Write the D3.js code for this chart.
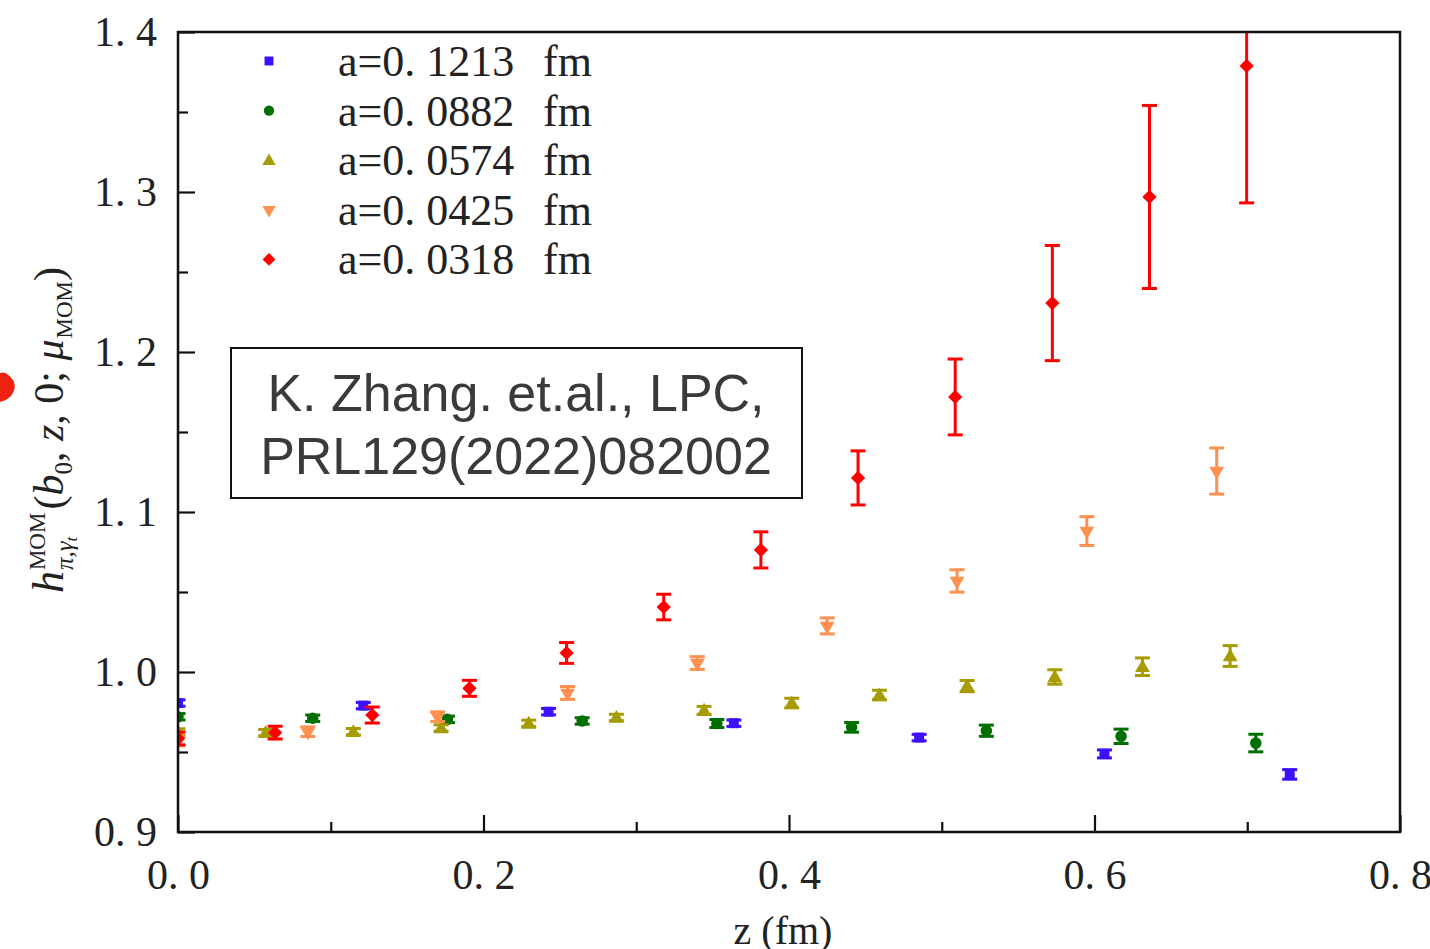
<!DOCTYPE html>
<html>
<head>
<meta charset="utf-8">
<script src="https://cdn.jsdelivr.net/npm/d3@7"></script>
<style>
  html, body { margin: 0; padding: 0; background: #fff; }
  svg { display: block; }
</style>
</head>
<body>
<svg id="chart" width="1430" height="949"></svg>
<script>
// Renormalized pion matrix element h^MOM vs. separation z, five lattice spacings
const seriesNames = ["a=0. 1213", "a=0. 0882", "a=0. 0574", "a=0. 0425", "a=0. 0318"];
const seriesColors = ["#3d10ff", "#006f00", "#a69b00", "#ff9050", "#ff0000"];
const seriesShapes = ["square", "circle", "triangleUp", "triangleDown", "diamond"];

const zA1213 = [0, 0.1213, 0.2426, 0.3639, 0.4852, 0.6065, 0.7278];
const hA1213 = [0.9806, 0.979, 0.9752, 0.968, 0.959, 0.9488, 0.936];
const eA1213 = [0.002, 0.002, 0.002, 0.002, 0.002, 0.0025, 0.003];

const zA0882 = [0, 0.0882, 0.1764, 0.2646, 0.3528, 0.441, 0.5292, 0.6174, 0.7056];
const hA0882 = [0.972, 0.9711, 0.9704, 0.9694, 0.9678, 0.9654, 0.9633, 0.9598, 0.9556];
const eA0882 = [0.002, 0.002, 0.002, 0.002, 0.0025, 0.003, 0.0035, 0.0045, 0.0055];

const zA0574 = [0, 0.0574, 0.1148, 0.1722, 0.2296, 0.287, 0.3444, 0.4018, 0.4592, 0.5166, 0.574, 0.6314, 0.6888];
const hA0574 = [0.9625, 0.9621, 0.9627, 0.965, 0.9679, 0.9716, 0.976, 0.9806, 0.9856, 0.9912, 0.9969, 1.0033, 1.01];
const eA0574 = [0.002, 0.002, 0.002, 0.002, 0.002, 0.002, 0.0025, 0.003, 0.003, 0.0035, 0.0045, 0.0055, 0.0065];

const zA0425 = [0, 0.085, 0.17, 0.255, 0.34, 0.425, 0.51, 0.595, 0.68];
const hA0425 = [0.9568, 0.9627, 0.9721, 0.9869, 1.0056, 1.0288, 1.0569, 1.0881, 1.1256];
const eA0425 = [0.003, 0.003, 0.003, 0.004, 0.004, 0.005, 0.007, 0.009, 0.0144];

const zA0318 = [0, 0.0636, 0.1272, 0.1908, 0.2544, 0.318, 0.3816, 0.4452, 0.5088, 0.5724, 0.636, 0.6996];
const hA0318 = [0.9585, 0.9621, 0.9731, 0.9898, 1.0119, 1.0406, 1.0763, 1.1213, 1.1719, 1.2306, 1.2969, 1.3788];
const eA0318 = [0.004, 0.004, 0.005, 0.005, 0.0065, 0.008, 0.0113, 0.0169, 0.0237, 0.036, 0.0572, 0.0856];

const xMajorTicks = [0, 0.2, 0.4, 0.6, 0.8];
const xMinorTicks = [0.1, 0.3, 0.5, 0.7];
const yMajorTicks = [0.9, 1.0, 1.1, 1.2, 1.3, 1.4];
const yMinorTicks = [0.95, 1.05, 1.15, 1.25, 1.35];

const noteLines = ["K. Zhang. et.al., LPC,", "PRL129(2022)082002"];

const seriesZ = [zA1213, zA0882, zA0574, zA0425, zA0318];
const seriesH = [hA1213, hA0882, hA0574, hA0425, hA0318];
const seriesE = [eA1213, eA0882, eA0574, eA0425, eA0318];

const series = seriesNames.map((name, i) => ({
  name, color: seriesColors[i], shape: seriesShapes[i],
  points: seriesZ[i].map((z, j) => ({ z, h: seriesH[i][j], e: seriesE[i][j] }))
}));

const svg = d3.select("#chart");
const plotLeft = 178, plotRight = 1400, plotTop = 32, plotBottom = 832;

const x = d3.scaleLinear().domain([0, 0.8]).range([plotLeft, plotRight]);
const y = d3.scaleLinear().domain([0.9, 1.4]).range([plotBottom, plotTop]);

const serif = "'Liberation Serif', 'DejaVu Serif', serif";
const fmtTick = d => d.toFixed(1).replace(".", ". ");

// clip region for the data
svg.append("defs").append("clipPath").attr("id", "plotClip")
  .append("rect").attr("x", plotLeft).attr("y", plotTop - 1)
  .attr("width", plotRight - plotLeft).attr("height", plotBottom - plotTop + 1);

// marker shapes
const symbolFor = {
  square: d3.symbolSquare, circle: d3.symbolCircle,
  triangleUp: d3.symbolTriangle, triangleDown: d3.symbolTriangle, diamond: d3.symbolDiamond2
};
const sizeFor = { square: 100, circle: 105, triangleUp: 95, triangleDown: 95, diamond: 130 };
function markerPath(shape, scale = 1) {
  return d3.symbol().type(symbolFor[shape]).size(sizeFor[shape] * scale)();
}
function markerTransform(shape, px, py) {
  let t = `translate(${px},${py})`;
  if (shape === "triangleDown") t += " rotate(180)";
  if (shape === "triangleUp") t += " translate(0,1)";
  return t;
}

// data: error bars and markers
const dataG = svg.append("g").attr("clip-path", "url(#plotClip)");
const capHalf = 7.5;
series.forEach(s => {
  const g = dataG.append("g");
  s.points.forEach(p => {
    const px = x(p.z), y1 = y(p.h + p.e), y0 = y(p.h - p.e);
    g.append("line").attr("x1", px).attr("x2", px).attr("y1", y1).attr("y2", y0)
      .attr("stroke", s.color).attr("stroke-width", 3);
    g.append("line").attr("x1", px - capHalf).attr("x2", px + capHalf).attr("y1", y1).attr("y2", y1)
      .attr("stroke", s.color).attr("stroke-width", 3);
    g.append("line").attr("x1", px - capHalf).attr("x2", px + capHalf).attr("y1", y0).attr("y2", y0)
      .attr("stroke", s.color).attr("stroke-width", 3);
    g.append("path").attr("d", markerPath(s.shape))
      .attr("transform", markerTransform(s.shape, px, y(p.h)))
      .attr("fill", s.color);
  });
});

// axes with inward ticks
function styleAxis(g) {
  g.select(".domain").remove();
  g.selectAll(".tick line").attr("stroke", "#111").attr("stroke-width", 2.2);
  g.selectAll(".tick text").attr("font-family", serif).attr("font-size", 42).attr("fill", "#222");
}
svg.append("g").attr("transform", `translate(0,${plotBottom})`)
  .call(d3.axisBottom(x).tickValues(xMajorTicks).tickSizeInner(-17).tickSizeOuter(0).tickPadding(27).tickFormat(fmtTick))
  .call(styleAxis);
svg.append("g").attr("transform", `translate(0,${plotBottom})`)
  .call(d3.axisBottom(x).tickValues(xMinorTicks).tickSizeInner(-10).tickSizeOuter(0).tickFormat(""))
  .call(styleAxis);
svg.append("g").attr("transform", `translate(${plotLeft},0)`)
  .call(d3.axisLeft(y).tickValues(yMajorTicks).tickSizeInner(-17).tickSizeOuter(0).tickPadding(21).tickFormat(fmtTick))
  .call(styleAxis);
svg.append("g").attr("transform", `translate(${plotLeft},0)`)
  .call(d3.axisLeft(y).tickValues(yMinorTicks).tickSizeInner(-10).tickSizeOuter(0).tickFormat(""))
  .call(styleAxis);

// frame
svg.append("rect").attr("x", plotLeft).attr("y", plotTop)
  .attr("width", plotRight - plotLeft).attr("height", plotBottom - plotTop)
  .attr("fill", "none").attr("stroke", "#111").attr("stroke-width", 2.5);

// legend
const legendG = svg.append("g");
series.forEach((s, i) => {
  const cy = 61 + i * 49.6;
  legendG.append("path").attr("d", markerPath(s.shape, 0.8))
    .attr("transform", markerTransform(s.shape, 269, cy)).attr("fill", s.color);
  legendG.append("text").attr("x", 338).attr("y", cy + 15)
    .attr("font-family", serif).attr("font-size", 44).attr("fill", "#222").text(s.name);
  legendG.append("text").attr("x", 543).attr("y", cy + 15)
    .attr("font-family", serif).attr("font-size", 44).attr("fill", "#222").text("fm");
});

// reference note
const noteG = svg.append("g");
noteG.append("rect").attr("x", 231).attr("y", 348).attr("width", 571).attr("height", 150)
  .attr("fill", "#fff").attr("stroke", "#111").attr("stroke-width", 2);
noteLines.forEach((t, i) => {
  noteG.append("text").attr("x", 516).attr("y", 411 + i * 63).attr("text-anchor", "middle")
    .attr("font-family", "'Liberation Sans', Arial, sans-serif").attr("font-size", 52)
    .attr("fill", "#3a3a3a").text(t);
});

// x axis title
svg.append("text").attr("x", 783).attr("y", 944).attr("text-anchor", "middle")
  .attr("font-family", serif).attr("font-size", 40).attr("fill", "#222")
  .text("z\u00a0(fm)");

// y axis title, built piece by piece along the rotated baseline
const big = 42, small = 25;
const yl = svg.append("g").attr("font-family", serif).attr("fill", "#222");
let cx = 0;
function add(str, size, dy, italic) {
  const t = yl.append("text").attr("x", cx).attr("y", dy).attr("font-size", size)
    .attr("font-style", italic ? "italic" : "normal").text(str);
  return t.node().getComputedTextLength();
}
cx += add("h", big + 2, 0, true) + 1;
const supStart = cx;
const supW = add("MOM", small - 2, -18, false);
const subW = add("\u03c0,\u03b3", small, 10, true);
cx = supStart + subW;
const tW = add("t", 17, 14, true);
cx = supStart + Math.max(supW, subW + tW) + 3;
cx += add("(", big, 0, false);
cx += add("b", big, 0, true);
cx += add("0", small, 9, false);
cx += add(",\u00a0", big, 0, false);
cx += add("z", big, 0, true);
cx += add(",\u00a00;\u00a0", big, 0, false);
cx += add("\u03bc", big, 0, true) + 1;
cx += add("MOM", small - 2, 9, false);
cx += add(")", big, 0, false);
yl.attr("transform", `translate(63,${430 + cx / 2}) rotate(-90)`);

// stray red mark at the left edge
svg.append("path")
  .attr("d", "M0,373 C5,371 9,375 13,380 C16,385 15,391 11,396 C7,400 3,401 0,402 Z")
  .attr("fill", "#ee2211");
</script>
</body>
</html>
